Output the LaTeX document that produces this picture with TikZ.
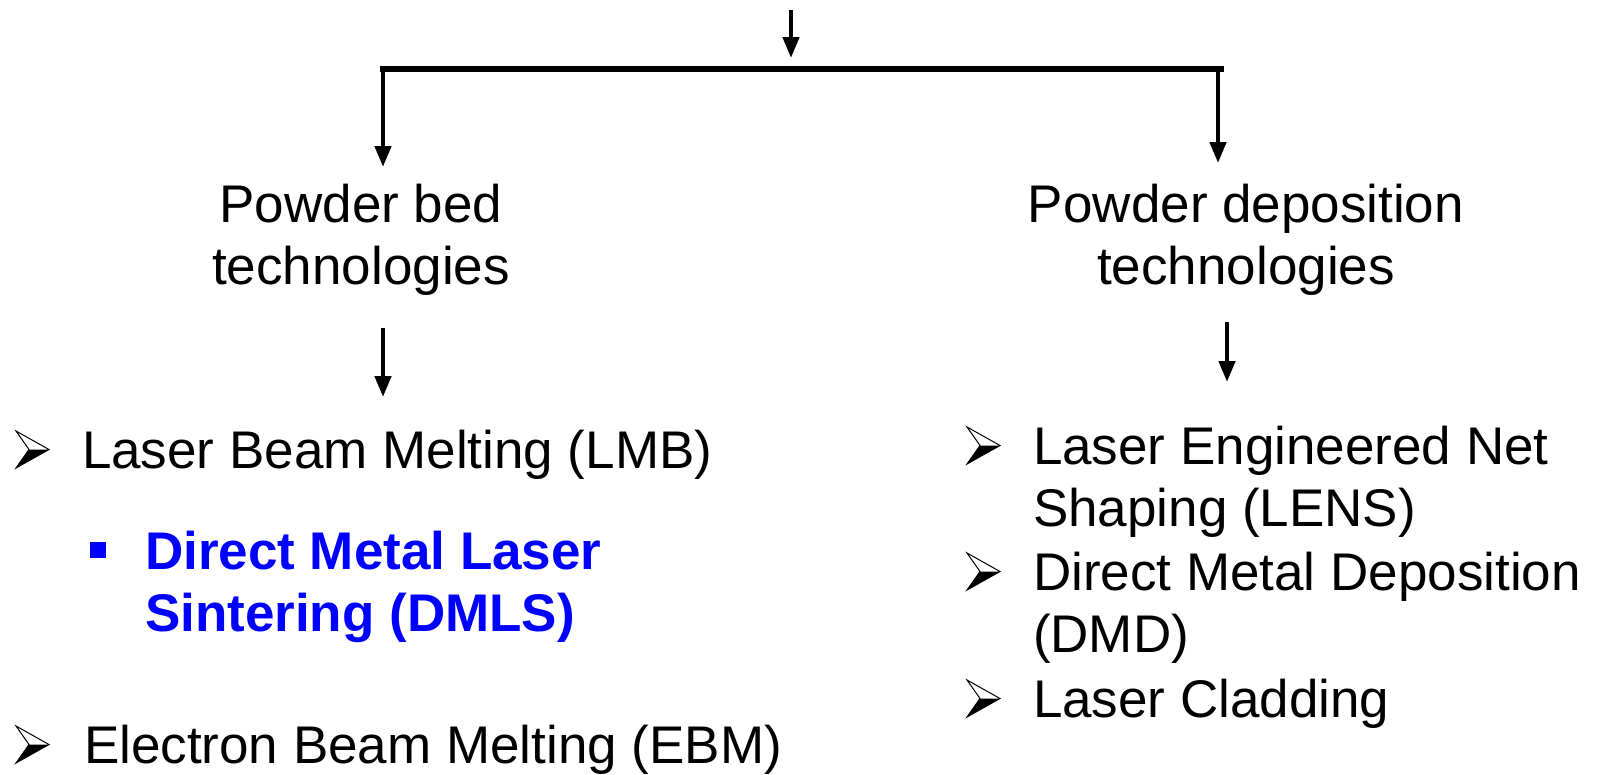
\documentclass[tikz,border=0pt]{standalone}
\usepackage{fontspec}
\setmainfont{Liberation Sans}
\usetikzlibrary{arrows.meta,calc}
\definecolor{dmblue}{RGB}{0,0,255}
\begin{document}
\begin{tikzpicture}[x=1pt,y=-1pt,
  lbl/.style={inner sep=0pt, outer sep=0pt, font=\fontsize{53}{62}\selectfont},
  itembox/.style={lbl, anchor=base west, align=left},
  titlebox/.style={lbl, align=center, anchor=base},
  arr/.style={line width=4.5pt, -{Triangle[width=16pt,length=21pt]}},
  barline/.style={line width=6.5pt},
  arrowbullet/.pic={
    \fill[black] (13,-18.5) -- (33,-18.5) -- (0,0) -- cycle;
    \draw[line width=1pt, line join=miter] (0,-37) -- (33,-18.5) -- (0,0) -- (13,-18.5) -- cycle;
  },
  squarebullet/.pic={
    \fill[dmblue] (0,-27) rectangle (16,-11);
  }
]
\useasboundingbox (0,0) rectangle (1600,774);

% titles (base = baseline of the last line)
\node[titlebox] (pbed) at (361,284) {Powder bed\\technologies};
\node[titlebox] (pdep) at (1246,284) {Powder deposition\\technologies};

% left items
\node[itembox] (lbm) at (82,468) {Laser Beam Melting (LMB)};
\node[itembox, text=dmblue, font=\fontsize{53}{62}\selectfont\bfseries] (dmls) at (145,631) {Direct Metal Laser\\Sintering (DMLS)};
\node[itembox] (ebm) at (84,763) {Electron Beam Melting (EBM)};

% right items
\node[itembox] (lens) at (1033,526) {Laser Engineered Net\\Shaping (LENS)};
\node[itembox] (dmd) at (1033,652) {Direct Metal Deposition\\(DMD)};
\node[itembox] (clad) at (1033,717) {Laser Cladding};

% bullets (placed on the first line of each item)
\pic at ($(lbm.base west)+(-66,0)$) {arrowbullet};
\pic at ($(ebm.base west)+(-68,0)$) {arrowbullet};
\pic at ($(lens.base west)+(-66,-62)$) {arrowbullet};
\pic at ($(dmd.base west)+(-66,-62)$) {arrowbullet};
\pic at ($(clad.base west)+(-66,0)$) {arrowbullet};
\pic at ($(dmls.base west)+(-55,-62)$) {squarebullet};

% connector coordinates
\coordinate (top0) at (791,10);
\coordinate (top1) at (791,58);
\coordinate (barL) at (380,69);
\coordinate (barR) at (1224,69);
\coordinate (dropL0) at (383,69);
\coordinate (dropL1) at (383,167);
\coordinate (dropR0) at (1218,69);
\coordinate (dropR1) at (1218,163);
\coordinate (subL0) at (383,328);
\coordinate (subL1) at (383,397);
\coordinate (subR0) at (1227,322);
\coordinate (subR1) at (1227,382);

\draw[arr] (top0) -- (top1);
\draw[barline] (barL) -- (barR);
\draw[arr] (dropL0) -- (dropL1);
\draw[arr] (dropR0) -- (dropR1);
\draw[arr] (subL0) -- (subL1);
\draw[arr] (subR0) -- (subR1);
\end{tikzpicture}
\end{document}
